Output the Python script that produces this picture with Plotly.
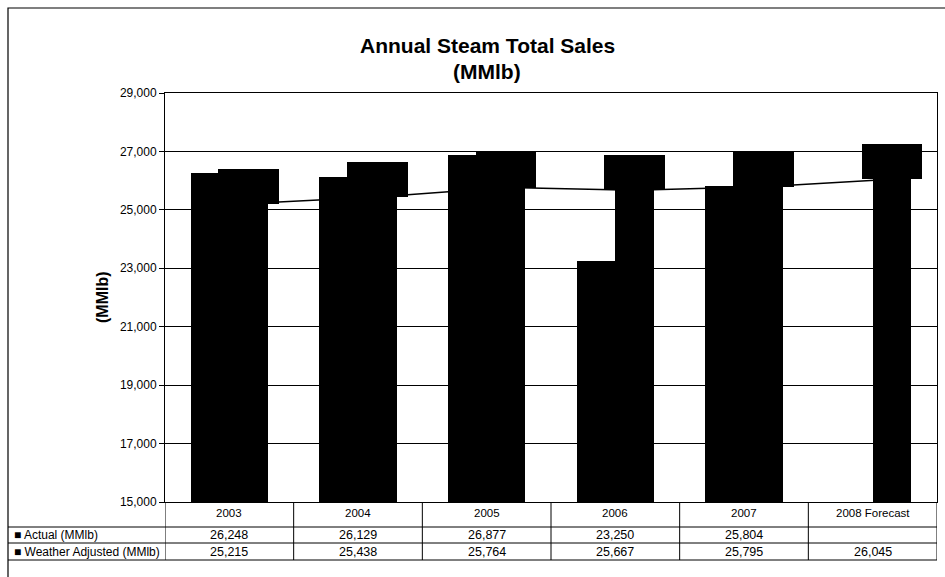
import plotly.graph_objects as go

categories = ["2003", "2004", "2005", "2006", "2007", "2008 Forecast"]
actual = [26248, 26129, 26877, 23250, 25804, None]
weather_adjusted = [25215, 25438, 25764, 25667, 25795, 26045]
actual_labels = ["26,248", "26,129", "26,877", "23,250", "25,804", ""]
wa_labels = ["25,215", "25,438", "25,764", "25,667", "25,795", "26,045"]
series_names = ["Actual (MMlb)", "Weather Adjusted (MMlb)"]
title_lines = ["Annual Steam Total Sales", "(MMlb)"]
y_ticks = list(range(15000, 29001, 2000))

W, H = 945, 577
L, R, T, B = 165, 8, 93, 75
PW = W - L - R
PH = H - T - B
FONT = "Liberation Sans, Arial, sans-serif"
BASE = 15000


def px_x(px):
    return (px - L) / PW


def px_y(py):
    return (H - B - py) / PH


xpos = list(range(len(categories)))
DEPTH = 1200  # visual 3D cap depth (style)

fig = go.Figure()

fig.add_trace(go.Bar(x=xpos, y=[(v - BASE) if v is not None else None for v in actual],
                     base=BASE, offset=-0.30, width=0.30,
                     marker=dict(color="black", line=dict(width=0)),
                     name=series_names[0], showlegend=False))
fig.add_trace(go.Bar(x=xpos, y=[v - BASE for v in weather_adjusted], base=BASE,
                     offset=0.0, width=0.30,
                     marker=dict(color="black", line=dict(width=0)),
                     name=series_names[1], showlegend=False))
fig.add_trace(go.Bar(x=xpos, y=[DEPTH] * len(weather_adjusted), base=weather_adjusted,
                     offset=-0.085, width=0.47,
                     marker=dict(color="black", line=dict(width=0)),
                     showlegend=False, hoverinfo="skip"))
fig.add_trace(go.Scatter(x=[p + 0.15 for p in xpos], y=weather_adjusted, mode="lines",
                         line=dict(color="black", width=1.5), showlegend=False,
                         hoverinfo="skip"))

annotations = []
for i, c in enumerate(categories):
    annotations.append(dict(x=i, y=px_y(513), xref="x", yref="paper", text=c,
                            showarrow=False, font=dict(family=FONT, size=11.5, color="black"),
                            xanchor="center", yanchor="middle"))
    annotations.append(dict(x=i, y=px_y(535), xref="x", yref="paper", text=actual_labels[i],
                            showarrow=False, font=dict(family=FONT, size=12.5, color="black"),
                            xanchor="center", yanchor="middle"))
    annotations.append(dict(x=i, y=px_y(552), xref="x", yref="paper", text=wa_labels[i],
                            showarrow=False, font=dict(family=FONT, size=12.5, color="black"),
                            xanchor="center", yanchor="middle"))
for name, py in zip(series_names, [535, 552]):
    annotations.append(dict(x=px_x(12), y=px_y(py), xref="paper", yref="paper",
                            text="■ " + name, showarrow=False,
                            font=dict(family=FONT, size=12, color="black"),
                            xanchor="left", yanchor="middle"))
annotations.append(dict(x=px_x(102), y=px_y(297), xref="paper", yref="paper",
                        text="<b>(MMlb)</b>", textangle=-90, showarrow=False,
                        font=dict(family=FONT, size=16, color="black"),
                        xanchor="center", yanchor="middle"))
for txt, py in zip(title_lines, [46, 72]):
    annotations.append(dict(x=px_x(487), y=px_y(py), xref="paper", yref="paper",
                            text="<b>" + txt + "</b>", showarrow=False,
                            font=dict(family=FONT, size=21, color="black"),
                            xanchor="center", yanchor="middle"))

shapes = []
line = dict(color="black", width=1)
shapes.append(dict(type="rect", xref="paper", yref="paper",
                   x0=px_x(8), x1=px_x(W + 20), y0=px_y(8), y1=px_y(H + 20),
                   line=dict(color="black", width=1.2)))
for py in [527, 543, 560]:
    shapes.append(dict(type="line", xref="paper", yref="paper",
                       x0=px_x(8), x1=1, y0=px_y(py), y1=px_y(py), line=line))
for i in range(len(categories) + 1):
    shapes.append(dict(type="line", xref="x", yref="paper",
                       x0=i - 0.5, x1=i - 0.5, y0=0, y1=px_y(560), line=line))

fig.update_layout(
    width=W, height=H,
    margin=dict(l=L, r=R, t=T, b=B, pad=0),
    paper_bgcolor="white", plot_bgcolor="white",
    barmode="overlay", bargap=0,
    xaxis=dict(range=[-0.5, len(categories) - 0.5], showticklabels=False,
               showgrid=False, zeroline=False, showline=True, linecolor="black",
               linewidth=1, mirror=True, ticks=""),
    yaxis=dict(range=[15000, 29000], tickvals=y_ticks, tickformat=",",
               showgrid=True, gridcolor="black", gridwidth=1, zeroline=False,
               showline=True, linecolor="black", linewidth=1, mirror=True,
               ticks="outside", ticklen=5, tickcolor="black",
               tickfont=dict(family=FONT, size=12, color="black")),
    annotations=annotations,
    shapes=shapes,
    showlegend=False,
)

fig.write_html("out.html")
